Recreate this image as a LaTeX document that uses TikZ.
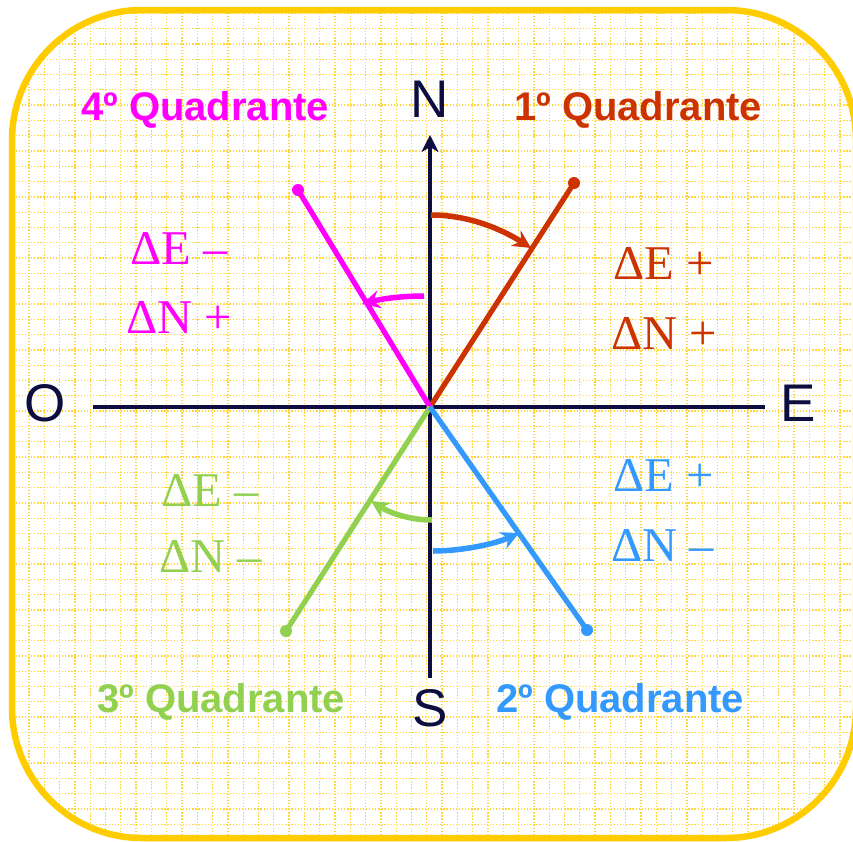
\documentclass[tikz,border=0pt]{standalone}
\usepackage{fontspec}
\setmainfont{Liberation Serif}
\newfontfamily\sansf{Liberation Sans}
\usetikzlibrary{arrows.meta}
\definecolor{frameY}{HTML}{FFCC00}
\definecolor{gridY}{HTML}{FFD640}
\definecolor{navy}{HTML}{0D0D40}
\definecolor{qred}{HTML}{CC3300}
\definecolor{qmag}{HTML}{FF00FF}
\definecolor{qgreen}{HTML}{92D050}
\definecolor{qblue}{HTML}{3399FF}
\begin{document}
\begin{tikzpicture}[x=1pt,y=-1pt,
  gridline/.style={gridY, line width=1.3pt, dash pattern=on 1.3pt off 1.8pt},
  axisline/.style={navy, line width=4.8pt},
  ray/.style={line width=5.2pt},
  tipdot/.style={circle, fill, inner sep=0pt, minimum size=12pt},
  turn/.style={line width=5.5pt, -{Stealth[length=18pt,width=18pt,inset=6pt]}},
  quad/.style={font=\sansf\bfseries\fontsize{40}{40}\selectfont, inner sep=0pt, anchor=base west},
  card/.style={font=\sansf\fontsize{53}{53}\selectfont, inner sep=0pt, text=navy},
  delta/.style={font=\fontsize{48.5}{48.5}\selectfont, inner sep=0pt, anchor=base west},
]
\useasboundingbox (0,0) rectangle (853,841);
\fill[white] (0,0) rectangle (853,841);
\begin{scope}
\clip[rounded corners=130pt] (12,10) rectangle (856,838);
\foreach \i in {0,...,55} \draw[gridline] (29+15.3*\i,0) -- (29+15.3*\i,841);
\foreach \i in {0,...,55} \draw[gridline] (0,13.3+15.3*\i) -- (853,13.3+15.3*\i);
\end{scope}
\draw[frameY, line width=6.5pt, rounded corners=130pt] (12,10) rectangle (856,838);

% axes
\coordinate (C) at (430,407);
\coordinate (Wend) at (93,407);
\coordinate (Eend) at (765,407);
\coordinate (Ntip) at (430,135);
\coordinate (Send) at (430,678);
\draw[axisline] (Wend) -- (Eend);
\draw[axisline, -{Stealth[length=17pt,width=17pt,inset=5pt]}] (Send) -- (Ntip);

% rays
\coordinate (Q1) at (574,183);
\coordinate (Q4) at (298,190);
\coordinate (Q3) at (286,631);
\coordinate (Q2) at (587,630);
\draw[ray, qred] (C) -- (Q1);
\draw[ray, qmag] (C) -- (Q4);
\draw[ray, qgreen] (C) -- (Q3);
\draw[ray, qblue] (C) -- (Q2);
\node[tipdot, qred] (Q1d) at (Q1) {};
\node[tipdot, qmag] (Q4d) at (Q4) {};
\node[tipdot, qgreen] (Q3d) at (Q3) {};
\node[tipdot, qblue] (Q2d) at (Q2) {};

% turning arcs
\coordinate (r1) at (431,215);
\coordinate (r2) at (531,248);
\coordinate (m1) at (424,296);
\coordinate (m2) at (362,304);
\coordinate (g1) at (432,520);
\coordinate (g2) at (371,501);
\coordinate (b1) at (433,551);
\coordinate (b2) at (519,533);
\draw[turn, qred] (r1) .. controls (467,215) and (500,228) .. (r2);
\draw[turn, qmag] (m1) .. controls (405,296) and (385,298) .. (m2);
\draw[turn, qgreen] (g1) .. controls (410,520) and (390,513) .. (g2);
\draw[turn, qblue] (b1) .. controls (462,551) and (495,544) .. (b2);

% quadrant titles
\node[quad, text=qmag] (q4) at (81,120) {4º Quadrante};
\node[quad, text=qred] (q1) at (514,120) {1º Quadrante};
\node[quad, text=qgreen] (q3) at (97,712) {3º Quadrante};
\node[quad, text=qblue] (q2) at (496,712) {2º Quadrante};

% cardinal points
\node[card, anchor=base] (N) at (430,117) {N};
\node[card, anchor=base] (S) at (430,726) {S};
\node[card, anchor=base] (O) at (45,421) {O};
\node[card, anchor=base west] (E) at (780,421) {E};

% deltas
\node[delta, text=qmag] (m4e) at (130,264) {ΔE –};
\node[delta, text=qmag] (m4n) at (126,333) {ΔN +};
\node[delta, text=qred] (r1e) at (613,279) {ΔE +};
\node[delta, text=qred] (r1n) at (611,349) {ΔN +};
\node[delta, text=qgreen] (g3e) at (161,506) {ΔE –};
\node[delta, text=qgreen] (g3n) at (159,572) {ΔN –};
\node[delta, text=qblue] (b2e) at (613,491) {ΔE +};
\node[delta, text=qblue] (b2n) at (611,561) {ΔN –};
\end{tikzpicture}
\end{document}
